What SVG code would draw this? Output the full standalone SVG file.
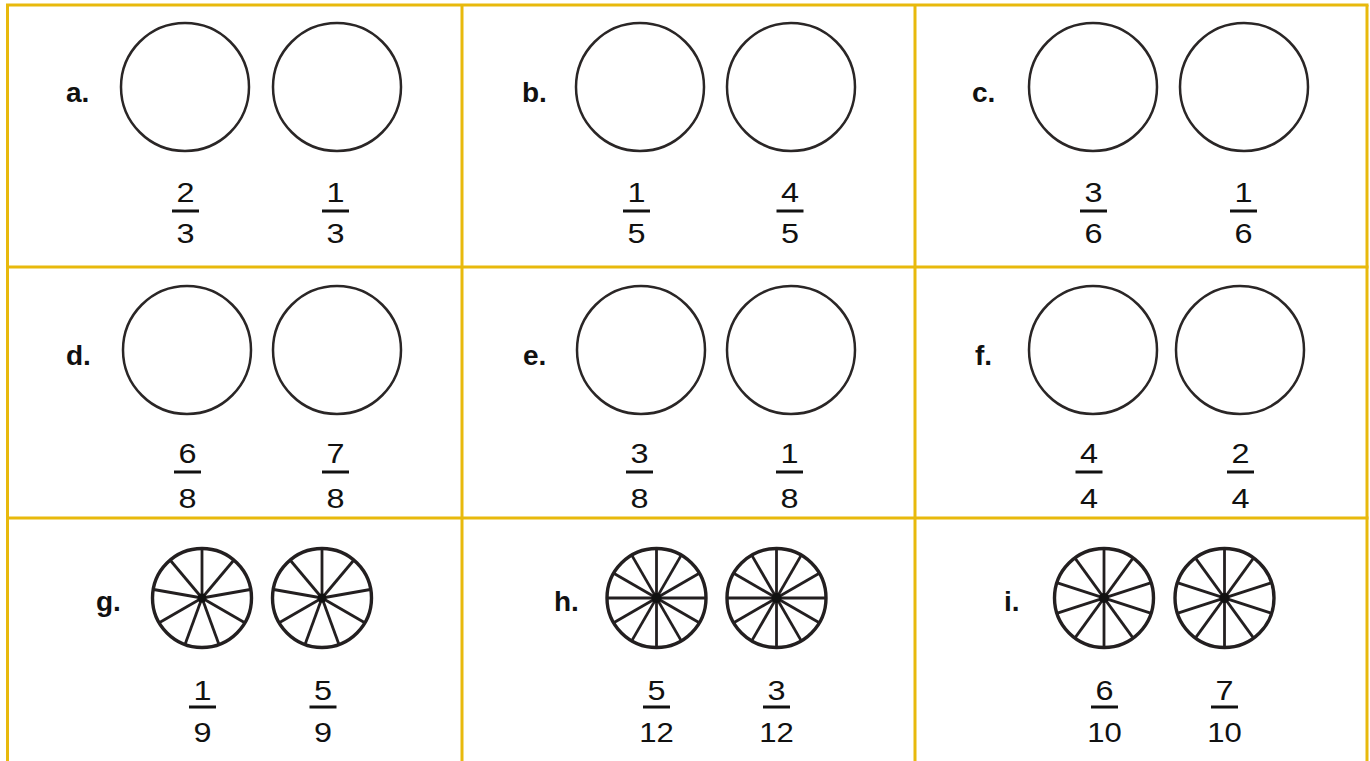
<svg xmlns="http://www.w3.org/2000/svg" xmlns:xlink="http://www.w3.org/1999/xlink" width="1370" height="761" viewBox="0 0 1370 761">
<style>
.grid{stroke:#e8b90c;stroke-width:3;fill:none}
.c{fill:none;stroke:#2a2626;stroke-width:2.5}
.w{fill:none;stroke:#231f20;stroke-width:3.4}
.sp{stroke:#231f20;stroke-width:2.8}
.lbl{font-family:"Liberation Sans",Arial,sans-serif;font-weight:bold;font-size:28px;fill:#111}
.num{font-family:"Liberation Sans",Arial,sans-serif;font-size:27px;fill:#111;text-anchor:middle}
.bar{stroke:#111;stroke-width:3}
</style>
<defs>
<g id="w9">
<circle class="w" r="49.5"/>
<g class="sp">
<line x1="0" y1="0" x2="0" y2="-49"/>
<line x1="0" y1="0" x2="31.5" y2="-37.5"/>
<line x1="0" y1="0" x2="48.3" y2="-8.5"/>
<line x1="0" y1="0" x2="42.4" y2="24.5"/>
<line x1="0" y1="0" x2="16.8" y2="46"/>
<line x1="0" y1="0" x2="-16.8" y2="46"/>
<line x1="0" y1="0" x2="-42.4" y2="24.5"/>
<line x1="0" y1="0" x2="-48.3" y2="-8.5"/>
<line x1="0" y1="0" x2="-31.5" y2="-37.5"/>
</g>
<circle r="4.5" fill="#111"/>
</g>
<g id="w12">
<circle class="w" r="49.5"/>
<g class="sp">
<line x1="0" y1="-49" x2="0" y2="49"/>
<line x1="-49" y1="0" x2="49" y2="0"/>
<line x1="24.5" y1="-42.4" x2="-24.5" y2="42.4"/>
<line x1="42.4" y1="-24.5" x2="-42.4" y2="24.5"/>
<line x1="-24.5" y1="-42.4" x2="24.5" y2="42.4"/>
<line x1="-42.4" y1="-24.5" x2="42.4" y2="24.5"/>
</g>
<circle r="5" fill="#111"/>
</g>
<g id="w10">
<circle class="w" r="49.5"/>
<g class="sp">
<line x1="0" y1="-49" x2="0" y2="49"/>
<line x1="28.8" y1="-39.6" x2="-28.8" y2="39.6"/>
<line x1="46.6" y1="-15.1" x2="-46.6" y2="15.1"/>
<line x1="-28.8" y1="-39.6" x2="28.8" y2="39.6"/>
<line x1="-46.6" y1="-15.1" x2="46.6" y2="15.1"/>
</g>
<circle r="5" fill="#111"/>
</g>
</defs>
<rect width="1370" height="761" fill="#fff"/>
<g id="connectors" class="grid">
<line x1="7.5" y1="5" x2="7.5" y2="761"/>
<line x1="462" y1="5" x2="462" y2="761"/>
<line x1="915" y1="5" x2="915" y2="761"/>
<line x1="1367" y1="5" x2="1367" y2="761"/>
<line x1="6" y1="5" x2="1368.5" y2="5"/>
<line x1="6" y1="267" x2="1368.5" y2="267"/>
<line x1="6" y1="518" x2="1368.5" y2="518"/>
</g>
<g id="cell-a">
<text class="lbl" x="66" y="102">a.</text>
<circle class="c" cx="185" cy="87" r="64"/>
<circle class="c" cx="337" cy="87" r="64"/>
<text class="num" transform="translate(185.5 202) scale(1.2 1)">2</text><line class="bar" x1="172" y1="211" x2="199" y2="211"/><text class="num" transform="translate(185.5 243) scale(1.2 1)">3</text>
<text class="num" transform="translate(335.5 202) scale(1.2 1)">1</text><line class="bar" x1="322" y1="211" x2="349" y2="211"/><text class="num" transform="translate(335.5 243) scale(1.2 1)">3</text>
</g>
<g id="cell-b">
<text class="lbl" x="522" y="102">b.</text>
<circle class="c" cx="640" cy="87" r="64"/>
<circle class="c" cx="791" cy="87" r="64"/>
<text class="num" transform="translate(636.5 202) scale(1.2 1)">1</text><line class="bar" x1="623" y1="211" x2="650" y2="211"/><text class="num" transform="translate(636.5 243) scale(1.2 1)">5</text>
<text class="num" transform="translate(790 202) scale(1.2 1)">4</text><line class="bar" x1="776.5" y1="211" x2="803.5" y2="211"/><text class="num" transform="translate(790 243) scale(1.2 1)">5</text>
</g>
<g id="cell-c">
<text class="lbl" x="972" y="102">c.</text>
<circle class="c" cx="1093" cy="87" r="64"/>
<circle class="c" cx="1244" cy="87" r="64"/>
<text class="num" transform="translate(1093.5 202) scale(1.2 1)">3</text><line class="bar" x1="1080" y1="211" x2="1107" y2="211"/><text class="num" transform="translate(1093.5 243) scale(1.2 1)">6</text>
<text class="num" transform="translate(1243.5 202) scale(1.2 1)">1</text><line class="bar" x1="1230" y1="211" x2="1257" y2="211"/><text class="num" transform="translate(1243.5 243) scale(1.2 1)">6</text>
</g>
<g id="cell-d">
<text class="lbl" x="66" y="365">d.</text>
<circle class="c" cx="187" cy="350" r="64"/>
<circle class="c" cx="337" cy="350" r="64"/>
<text class="num" transform="translate(187.5 463) scale(1.2 1)">6</text><line class="bar" x1="174" y1="472" x2="201" y2="472"/><text class="num" transform="translate(187.5 508) scale(1.2 1)">8</text>
<text class="num" transform="translate(335.5 463) scale(1.2 1)">7</text><line class="bar" x1="322" y1="472" x2="349" y2="472"/><text class="num" transform="translate(335.5 508) scale(1.2 1)">8</text>
</g>
<g id="cell-e">
<text class="lbl" x="523" y="365">e.</text>
<circle class="c" cx="641" cy="350" r="64"/>
<circle class="c" cx="791" cy="350" r="64"/>
<text class="num" transform="translate(639.5 463) scale(1.2 1)">3</text><line class="bar" x1="626" y1="472" x2="653" y2="472"/><text class="num" transform="translate(639.5 508) scale(1.2 1)">8</text>
<text class="num" transform="translate(789.5 463) scale(1.2 1)">1</text><line class="bar" x1="776" y1="472" x2="803" y2="472"/><text class="num" transform="translate(789.5 508) scale(1.2 1)">8</text>
</g>
<g id="cell-f">
<text class="lbl" x="975" y="365">f.</text>
<circle class="c" cx="1093" cy="350" r="64"/>
<circle class="c" cx="1240" cy="350" r="64"/>
<text class="num" transform="translate(1089 463) scale(1.2 1)">4</text><line class="bar" x1="1075.5" y1="472" x2="1102.5" y2="472"/><text class="num" transform="translate(1089 508) scale(1.2 1)">4</text>
<text class="num" transform="translate(1240.5 463) scale(1.2 1)">2</text><line class="bar" x1="1227" y1="472" x2="1254" y2="472"/><text class="num" transform="translate(1240.5 508) scale(1.2 1)">4</text>
</g>
<g id="cell-g">
<text class="lbl" x="96" y="611">g.</text>
<use xlink:href="#w9" href="#w9" x="202" y="598"/>
<use xlink:href="#w9" href="#w9" x="322" y="598"/>
<text class="num" transform="translate(202.5 700) scale(1.2 1)">1</text><line class="bar" x1="189" y1="707" x2="216" y2="707"/><text class="num" transform="translate(202.5 742) scale(1.2 1)">9</text>
<text class="num" transform="translate(323 700) scale(1.2 1)">5</text><line class="bar" x1="309.5" y1="707" x2="336.5" y2="707"/><text class="num" transform="translate(323 742) scale(1.2 1)">9</text>
</g>
<g id="cell-h">
<text class="lbl" x="554" y="611">h.</text>
<use xlink:href="#w12" href="#w12" x="656.5" y="598"/>
<use xlink:href="#w12" href="#w12" x="776.5" y="598"/>
<text class="num" transform="translate(656.5 700) scale(1.2 1)">5</text><line class="bar" x1="643" y1="707" x2="670" y2="707"/><text class="num" transform="translate(656.5 742) scale(1.15 1)">12</text>
<text class="num" transform="translate(776.5 700) scale(1.2 1)">3</text><line class="bar" x1="763" y1="707" x2="790" y2="707"/><text class="num" transform="translate(776.5 742) scale(1.15 1)">12</text>
</g>
<g id="cell-i">
<text class="lbl" x="1004" y="611">i.</text>
<use xlink:href="#w10" href="#w10" x="1104" y="598"/>
<use xlink:href="#w10" href="#w10" x="1224.5" y="598"/>
<text class="num" transform="translate(1104.5 700) scale(1.2 1)">6</text><line class="bar" x1="1091" y1="707" x2="1118" y2="707"/><text class="num" transform="translate(1104.5 742) scale(1.15 1)">10</text>
<text class="num" transform="translate(1224.5 700) scale(1.2 1)">7</text><line class="bar" x1="1211" y1="707" x2="1238" y2="707"/><text class="num" transform="translate(1224.5 742) scale(1.15 1)">10</text>
</g>
</svg>
